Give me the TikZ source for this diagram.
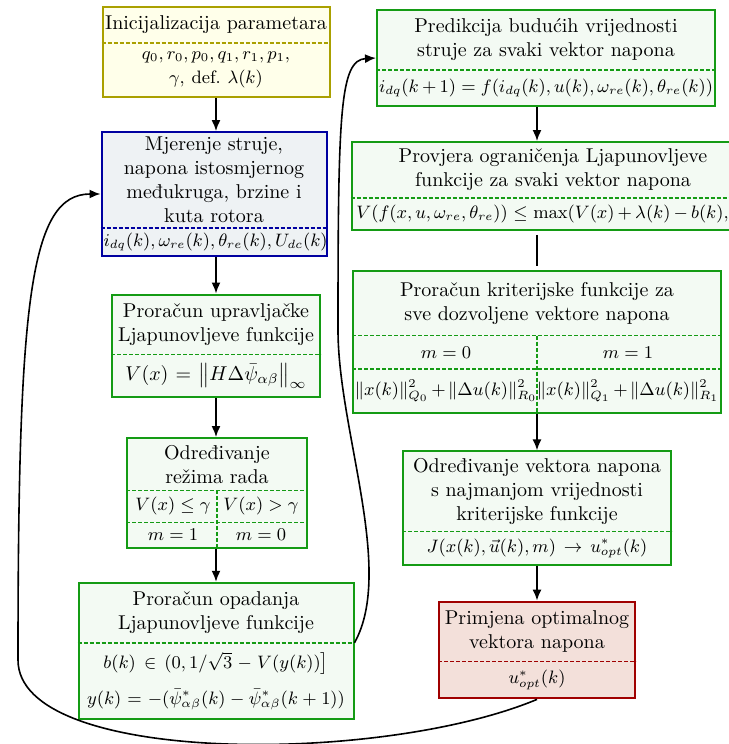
\documentclass[tikz,border=0pt]{standalone}
\usepackage{amsmath,amssymb}
\usetikzlibrary{arrows.meta,shapes.multipart}

\definecolor{ylwfill}{RGB}{255,255,234}
\definecolor{ylwline}{RGB}{170,160,0}
\definecolor{bluefill}{RGB}{238,242,244}
\definecolor{blueline}{RGB}{0,0,160}
\definecolor{grnfill}{RGB}{243,250,243}
\definecolor{grnline}{RGB}{20,155,20}
\definecolor{redfill}{RGB}{243,224,218}
\definecolor{redline}{RGB}{160,0,0}

\tikzset{
    block/.style={rectangle split, rectangle split parts=2, rectangle split draw splits=false,
        draw, line width=1pt, align=center, inner xsep=1pt, inner ysep=4pt},
    ylwblock/.style={block, draw=ylwline, fill=ylwfill},
    blueblock/.style={block, draw=blueline, fill=bluefill},
    grnblock/.style={block, draw=grnline, fill=grnfill},
    redblock/.style={block, draw=redline, fill=redfill},
    sepline/.style={thick, dash pattern=on 2pt off 1pt},
}

\begin{document}
\begin{tikzpicture}[>={Latex[length=5.5pt,width=4.5pt]}, thick, x=0.5pt, y=0.5pt]
    \useasboundingbox (0,0) rectangle (728,-744);

    % Nodes, left column {init, mjer, upr, odr, opad}
    \node [ylwblock, text width=111.5pt]    (init)  at (216,-52)   {Inicijalizacija parametara
        \nodepart{two} \small $q_0, r_0, p_0, q_1, r_1, p_1,$\\ $\gamma$, def.\ $\lambda(k)$};
    \node [blueblock, text width=110.5pt, inner ysep=2pt] (mjer) at (214,-194) {Mjerenje struje,\\ napona istosmjernog\\ međukruga, brzine i\\ kuta rotora
        \nodepart{two} \small $i_{dq}(k), \omega_{re}(k), \theta_{re}(k), U_{dc}(k)$};
    \node [grnblock, text width=102pt]      (upr)   at (216,-346)  {Proračun upravljačke\\ Ljapunovljeve funkcije
        \nodepart{two} $V(x) = \big\| H \Delta\bar{\psi}_{\alpha\beta} \big\|_\infty$};
    \node [grnblock, rectangle split parts=3, text width=88pt, inner ysep=3pt] (odr) at (217,-493) {Određivanje\\ režima rada
        \nodepart{two} \small \makebox[44pt]{$V(x) \le \gamma$}\makebox[44pt]{$V(x) > \gamma$}
        \nodepart{three} \small \makebox[44pt]{$m = 1$}\makebox[44pt]{$m = 0$}};
    \node [grnblock, text width=135.5pt]    (opad)  at (216,-651)  {Proračun opadanja\\ Ljapunovljeve funkcije
        \nodepart{two} \small $b(k) \in (0, 1/\sqrt{3} - V(y(k))\big]$\\[6pt]
        $y(k) = -(\bar{\psi}^*_{\alpha\beta}(k) - \bar{\psi}^*_{\alpha\beta}(k+1))$};

    % Nodes, right column {pred, prov, krit, odrv, prim}
    \node [grnblock, text width=167pt]      (pred)  at (546,-58)   {Predikcija budućih vrijednosti\\ struje za svaki vektor napona
        \nodepart{two} \small $i_{dq}(k+1) = f(i_{dq}(k), u(k), \omega_{re}(k), \theta_{re}(k))$};
    \node [grnblock, text width=199.5pt, inner ysep=3pt] (prov) at (553,-186) {Provjera ograničenja Ljapunovljeve\\ funkcije za svaki vektor napona
        \nodepart{two} \small \medmuskip=3mu $V(f(x,u,\omega_{re},\theta_{re})) \le \max(V(x) + \lambda(k) - b(k), \gamma)$};
    \node [grnblock, rectangle split parts=3, text width=182pt, inner ysep=5pt] (krit) at (537,-342) {Proračun kriterijske funkcije za\\ sve dozvoljene vektore napona
        \nodepart{two} \small \makebox[91pt]{$m = 0$}\makebox[91pt]{$m = 1$}
        \nodepart{three} \small \medmuskip=2.5mu \makebox[91pt]{$\|x(k)\|^2_{Q_0} + \|\Delta u(k)\|^2_{R_0}$}\makebox[91pt]{$\|x(k)\|^2_{Q_1} + \|\Delta u(k)\|^2_{R_1}$}};
    \node [grnblock, text width=132pt, inner ysep=3pt] (odrv) at (537,-508) {Određivanje vektora napona\\ s najmanjom vrijednosti\\ kriterijske funkcije
        \nodepart{two} \small $J(x(k), \vec{u}(k), m) \to u^*_{opt}(k)$};
    \node [redblock, text width=96pt]       (prim)  at (537,-650)  {Primjena optimalnog\\ vektora napona
        \nodepart{two} \small $u^*_{opt}(k)$};

    % Dashed splits
    \draw [sepline, ylwline]    (init.text split west) -- (init.text split east);
    \draw [sepline, blueline]   (mjer.text split west) -- (mjer.text split east);
    \draw [sepline, grnline]    (upr.text split west)  -- (upr.text split east);
    \draw [sepline, grnline]    (odr.text split west)  -- (odr.text split east);
    \draw [sepline, grnline]    (odr.two split west)   -- (odr.two split east);
    \draw [sepline, grnline]    (odr.text split)       -- (odr.south);
    \draw [sepline, grnline]    (opad.text split west) -- (opad.text split east);
    \draw [sepline, grnline]    (pred.text split west) -- (pred.text split east);
    \draw [sepline, grnline]    (prov.text split west) -- (prov.text split east);
    \draw [sepline, grnline]    (krit.text split west) -- (krit.text split east);
    \draw [sepline, grnline]    (krit.two split west)  -- (krit.two split east);
    \draw [sepline, grnline]    (krit.text split)      -- (krit.south);
    \draw [sepline, grnline]    (odrv.text split west) -- (odrv.text split east);
    \draw [sepline, redline]    (prim.text split west) -- (prim.text split east);

    % Paths
    \path [->]  (init.south -| upr.north) edge (mjer.north -| upr.north);
    \path [->]  (mjer.south -| upr.north) edge (upr.north);
    \path [->]  (upr.south) edge (upr.south |- odr.north);
    \path [->]  (odr.south -| upr.south) edge (opad.north -| upr.south);
    \path [->]  (pred.south -| krit.north) edge (prov.north -| krit.north);
    \path [-, shorten <=2pt, shorten >=2pt] (prov.south -| krit.north) edge (krit.north);
    \path [->]  (krit) edge (odrv);
    \path [->]  (odrv) edge (prim);

    % Feedback curves
    \coordinate (fbr) at (338,-330);
    \coordinate (fbl) at (18,-660);
    \draw [->] (opad.text split east) .. controls (395,-570) and (338,-430) .. (fbr)
        .. controls (338,-110) and (340,-60) .. (pred.west);
    \draw [->] (prim.south) .. controls (380,-765) and (18,-765) .. (fbl)
        .. controls (18,-300) and (30,-194) .. (mjer.west);
\end{tikzpicture}
\end{document}
